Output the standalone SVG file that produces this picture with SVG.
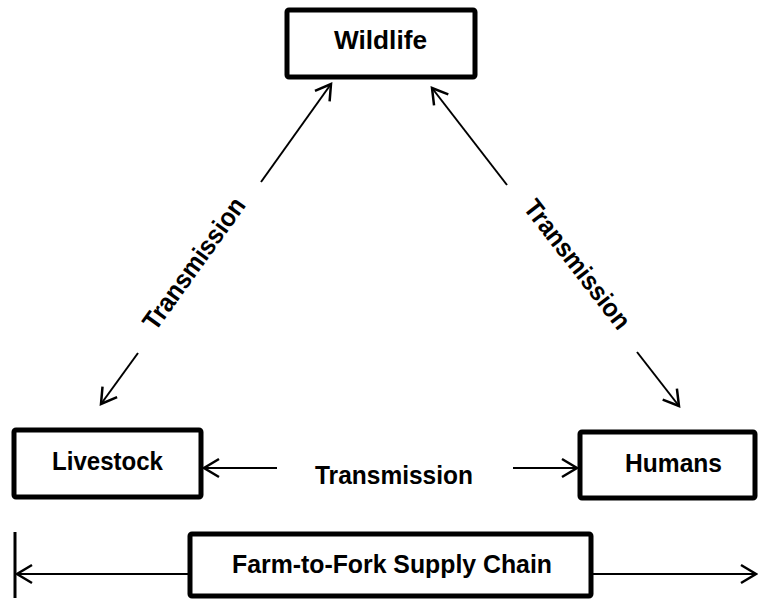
<svg xmlns="http://www.w3.org/2000/svg" width="758" height="601" viewBox="0 0 758 601">
<style>
.box{fill:#fff;stroke:#000;stroke-width:5;}
.lbl{font-family:"Liberation Sans",Arial,sans-serif;font-weight:bold;font-size:26px;fill:#000;text-anchor:middle;}
.con{stroke:#000;stroke-width:2;fill:none;}
</style>
<defs>
<marker id="ah" markerUnits="userSpaceOnUse" viewBox="-20 -12 24 24" markerWidth="24" markerHeight="24" refX="0" refY="0" orient="auto">
<path d="M-15,-9 L0,0 L-15,9" fill="none" stroke="#000" stroke-width="2.5"/>
</marker>
</defs>
<rect width="758" height="601" fill="#fff"/>
<g id="connectors">
<line class="con" x1="261" y1="182" x2="331" y2="84" marker-end="url(#ah)"/>
<line class="con" x1="138" y1="353" x2="101" y2="404" marker-end="url(#ah)"/>
<line class="con" x1="507" y1="185" x2="432" y2="88" marker-end="url(#ah)"/>
<line class="con" x1="637" y1="352" x2="679" y2="406" marker-end="url(#ah)"/>
<line class="con" x1="277" y1="468" x2="204" y2="468" marker-end="url(#ah)"/>
<line class="con" x1="513" y1="468" x2="577" y2="468" marker-end="url(#ah)"/>
<line class="con" x1="188" y1="574" x2="17" y2="574" marker-end="url(#ah)"/>
<line class="con" x1="593" y1="574" x2="756" y2="574" marker-end="url(#ah)"/>
<line x1="15" y1="532" x2="15" y2="598" stroke="#000" stroke-width="3"/>
<text class="lbl" transform="translate(199.5,267.5) rotate(-54.3)" y="2" textLength="156" lengthAdjust="spacingAndGlyphs">Transmission</text>
<text class="lbl" transform="translate(572,268.5) rotate(52.2)" y="2" textLength="156" lengthAdjust="spacingAndGlyphs">Transmission</text>
<text class="lbl" x="394" y="484" textLength="158" lengthAdjust="spacingAndGlyphs">Transmission</text>
</g>
<g id="wildlife">
<rect class="box" x="287" y="10" width="188" height="67" rx="2"/>
<text class="lbl" x="380.5" y="49" textLength="93" lengthAdjust="spacingAndGlyphs">Wildlife</text>
</g>
<g id="livestock">
<rect class="box" x="14" y="430" width="187" height="67" rx="2"/>
<text class="lbl" x="107.5" y="470" textLength="111" lengthAdjust="spacingAndGlyphs">Livestock</text>
</g>
<g id="humans">
<rect class="box" x="580" y="432" width="175" height="66" rx="2"/>
<text class="lbl" x="673.5" y="472" textLength="97" lengthAdjust="spacingAndGlyphs">Humans</text>
</g>
<g id="supply-chain">
<rect class="box" x="190" y="534" width="401" height="62" rx="2"/>
<text class="lbl" x="392" y="573" textLength="320" lengthAdjust="spacingAndGlyphs">Farm-to-Fork Supply Chain</text>
</g>
</svg>
